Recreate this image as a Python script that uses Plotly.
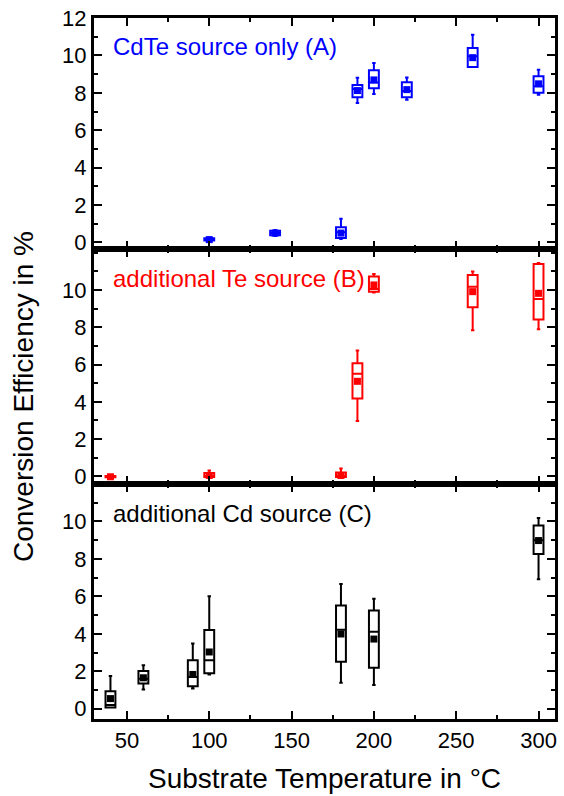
import plotly.graph_objects as go
from plotly.subplots import make_subplots

# Substrate temperatures (°C) and box statistics of conversion efficiency (%)
temp_a = [100, 140, 180, 190, 200, 220, 260, 300]
low_a = [0.08, 0.35, 0.18, 7.46, 7.94, 7.63, 9.38, 7.89]
q1_a = [0.10, 0.38, 0.24, 7.76, 8.25, 7.76, 9.38, 8.00]
med_a = [0.15, 0.50, 0.55, 8.20, 8.55, 8.10, 9.95, 8.35]
q3_a = [0.22, 0.62, 0.81, 8.42, 9.21, 8.57, 10.40, 8.89]
high_a = [0.25, 0.66, 1.26, 8.80, 9.59, 8.82, 11.11, 9.23]
mean_a = [0.15, 0.50, 0.50, 8.12, 8.69, 8.17, 9.88, 8.48]

temp_b = [40, 100, 180, 190, 200, 260, 300]
low_b = [-0.06, -0.03, -0.03, 2.97, 9.86, 7.84, 7.89]
q1_b = [-0.05, -0.03, -0.03, 4.18, 9.91, 9.08, 8.42]
med_b = [-0.02, 0.02, 0.03, 5.50, 10.05, 10.18, 9.51]
q3_b = [0.02, 0.18, 0.21, 6.07, 10.72, 10.81, 11.39]
high_b = [0.03, 0.31, 0.42, 6.76, 10.86, 10.99, 11.45]
mean_b = [-0.02, 0.05, 0.05, 5.10, 10.27, 9.91, 9.82]

temp_c = [40, 60, 90, 100, 180, 200, 300]
low_c = [0.07, 1.02, 1.08, 1.83, 1.38, 1.26, 6.91]
q1_c = [0.07, 1.35, 1.20, 1.89, 2.51, 2.19, 8.26]
med_c = [0.20, 1.60, 1.69, 2.59, 4.22, 4.11, 9.00]
q3_c = [0.93, 2.01, 2.59, 4.20, 5.51, 5.24, 9.78]
high_c = [1.74, 2.32, 3.48, 6.01, 6.66, 5.87, 10.18]
mean_c = [0.54, 1.65, 1.83, 3.03, 3.99, 3.72, 8.98]

labels = ["CdTe source only (A)", "additional Te source (B)", "additional Cd source (C)"]
colors = ["#0000ff", "#ff0000", "#000000"]
x_ticks = [50, 100, 150, 200, 250, 300]
y_ticks_a = [0, 2, 4, 6, 8, 10, 12]
y_ticks_bc = [0, 2, 4, 6, 8, 10]

FONT = "Liberation Sans, Arial, sans-serif"

fig = make_subplots(rows=3, cols=1, shared_xaxes=True, vertical_spacing=0)

panels = [
    (temp_a, low_a, q1_a, med_a, q3_a, high_a, mean_a),
    (temp_b, low_b, q1_b, med_b, q3_b, high_b, mean_b),
    (temp_c, low_c, q1_c, med_c, q3_c, high_c, mean_c),
]

for i, (t, lo, q1, med, q3, hi, mn) in enumerate(panels):
    row = i + 1
    c = colors[i]
    fig.add_trace(
        go.Box(
            x=t, q1=q1, median=med, q3=q3, lowerfence=lo, upperfence=hi,
            width=6, whiskerwidth=0.35, fillcolor="rgba(255,255,255,0)",
            line=dict(color=c, width=2), boxpoints=False,
            showlegend=False, hoverinfo="skip",
        ),
        row=row, col=1,
    )
    fig.add_trace(
        go.Scatter(
            x=t, y=mn, mode="markers",
            marker=dict(symbol="square", size=7, color=c, line=dict(width=0)),
            showlegend=False, hoverinfo="skip",
        ),
        row=row, col=1,
    )

# panel geometry (paper fractions)
domains = [[0.6705, 1.0], [0.3352, 0.6705], [0.0, 0.3352]]
y_ranges = [[-0.35, 12.0], [-0.41, 12.2], [-0.55, 12.0]]
y_tickvals = [y_ticks_a, y_ticks_bc, y_ticks_bc]

axis_common = dict(
    showline=True, linecolor="black", linewidth=3, mirror="ticks",
    ticks="inside", ticklen=8, tickwidth=2, tickcolor="black",
    showgrid=False, zeroline=False,
    tickfont=dict(family=FONT, size=22, color="black"),
)

for i in range(3):
    row = i + 1
    fig.update_yaxes(
        range=y_ranges[i], domain=domains[i], tickvals=y_tickvals[i],
        minor=dict(dtick=1, tick0=0, ticks="inside", ticklen=4, tickwidth=2,
                   tickcolor="black", showgrid=False),
        row=row, col=1, **axis_common,
    )
    fig.update_xaxes(
        range=[30, 310], tickvals=x_ticks, showticklabels=(row == 3),
        minor=dict(dtick=25, tick0=0, ticks="inside", ticklen=4, tickwidth=2,
                   tickcolor="black", showgrid=False),
        row=row, col=1, **axis_common,
    )
    fig.add_annotation(
        text=labels[i], xref=f"x{'' if row == 1 else row} domain",
        yref=f"y{'' if row == 1 else row} domain",
        x=0.036, y=0.875, xanchor="left", yanchor="middle", showarrow=False,
        font=dict(family=FONT, size=24, color=colors[i]),
    )

# axis titles
fig.add_annotation(
    text="Substrate Temperature in °C", xref="paper", yref="paper",
    x=0.5, y=-0.0846, xanchor="center", yanchor="middle", showarrow=False,
    font=dict(family=FONT, size=28, color="black"),
)
fig.add_annotation(
    text="Conversion Efficiency in %", xref="paper", yref="paper",
    x=-0.153, y=0.46, xanchor="center", yanchor="middle", textangle=-90,
    showarrow=False, font=dict(family=FONT, size=28, color="black"),
)

fig.update_layout(
    width=564, height=796,
    margin=dict(l=94, r=6, t=18, b=77),
    paper_bgcolor="white", plot_bgcolor="white",
)

fig.write_html("out.html")
